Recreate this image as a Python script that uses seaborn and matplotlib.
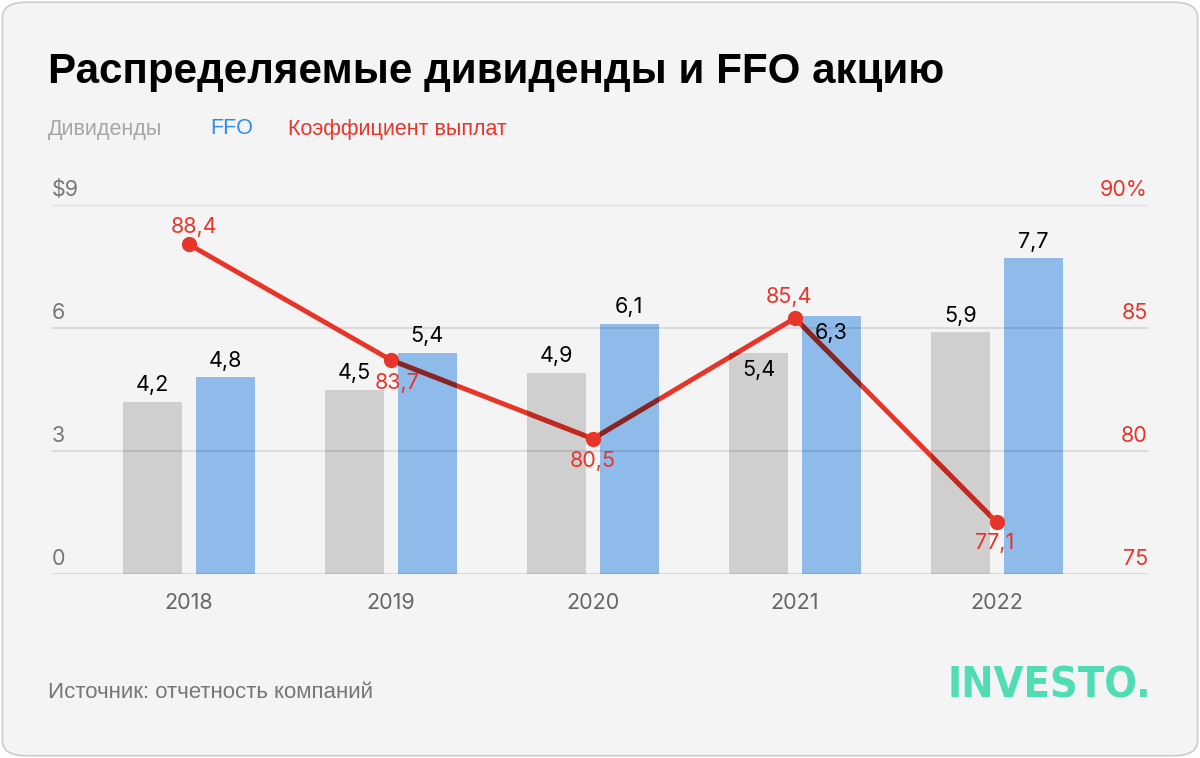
import numpy as np
import seaborn as sns
import pandas as pd
import matplotlib
matplotlib.use("Agg")
from matplotlib import pyplot as plt
from matplotlib.patches import FancyBboxPatch

years = ["2018", "2019", "2020", "2021", "2022"]
dividends = [4.2, 4.5, 4.9, 5.4, 5.9]
ffo = [4.8, 5.4, 6.1, 6.3, 7.7]
payout = [88.4, 83.7, 80.5, 85.4, 77.1]

left_ticks = [0, 3, 6, 9]
left_labels = ["0", "3", "6", "$9"]
right_ticks = [75, 80, 85, 90]
right_labels = ["75", "80", "85", "90%"]

# label offsets in pixels (dx, dy)
div_off = [(0, 17), (0, 17), (0, 17), (0, -17), (0, 16)]
ffo_off = [(0, 16), (0, 17), (0, 17), (0, -17), (0, 16)]
pay_off = [(5, 17), (6, -23), (0, -22), (-6, 21), (-2, -21)]

BG = "#F4F4F4"
GREY = "#CFCFCF"
BLUE = "#8FBBEA"
RED = "#E8352A"

sns.set_theme(style="white")
plt.rcParams["font.family"] = ["Inter", "DejaVu Sans"]

fig = plt.figure(figsize=(12, 7.58), dpi=100)
fig.patch.set_facecolor("white")
card = FancyBboxPatch((0.002, 0.003), 0.996, 0.994,
                      boxstyle="round,pad=0,rounding_size=0.02",
                      transform=fig.transFigure, facecolor=BG,
                      edgecolor="#CCCCCC", linewidth=1.2, zorder=-10)
fig.patches.append(card)

ax = fig.add_axes([0.0433, 0.2427, 0.9133, 0.4868])
ax.set_facecolor("none")

data = pd.DataFrame({
    "year": years * 2,
    "value": dividends + ffo,
    "series": ["Дивиденды"] * len(years) + ["FFO"] * len(years),
})
sns.barplot(data=data, x="year", y="value", hue="series",
            palette=[GREY, BLUE], width=0.72, gap=0.19,
            legend=False, ax=ax, saturation=1, zorder=2, linewidth=0)

ax.set_ylim(0, 9)
ax.set_xlim(-0.678, 4.748)
ax.set_yticks(left_ticks)
ax.set_yticklabels([])
ax.tick_params(axis="y", length=0)
ax.tick_params(axis="x", length=8, width=1.5, color="#CCCCCC",
               labelsize=15.5, labelcolor="#666666", pad=6)
for s in ax.spines.values():
    s.set_visible(False)
ax.set_xlabel("")
ax.set_ylabel("")
for t, lab in zip(left_ticks, left_labels):
    ax.axhline(t, color="black", alpha=0.1, lw=1.5, zorder=3)
    ax.annotate(lab, (0, t), xycoords=("axes fraction", "data"),
                xytext=(0, 5), textcoords="offset pixels",
                ha="left", va="bottom", fontsize=15.5, color="#777777")

# bar value labels
n = len(years)
bars = list(ax.patches)
for i, b in enumerate(bars[:n]):
    ax.annotate(f"{dividends[i]:.1f}".replace(".", ","),
                (b.get_x() + b.get_width() / 2, b.get_height()),
                xytext=div_off[i], textcoords="offset pixels",
                ha="center", va="center", fontsize=15.5, color="black", zorder=5)
for i, b in enumerate(bars[n:2 * n]):
    ax.annotate(f"{ffo[i]:.1f}".replace(".", ","),
                (b.get_x() + b.get_width() / 2, b.get_height()),
                xytext=ffo_off[i], textcoords="offset pixels",
                ha="center", va="center", fontsize=15.5, color="black", zorder=5)

# payout line on the right axis
ax2 = ax.twinx()
xpos = np.arange(n)
sns.lineplot(x=xpos, y=payout, ax=ax2, color=RED, lw=3.5,
             marker="o", markersize=11, markeredgewidth=0, zorder=4)
# darker line where it crosses the bars (multiply look)
for i, b in enumerate(bars[:2 * n]):
    dark = "#842724" if i >= n else "#BE2B22"
    ln, = ax2.plot(xpos, payout, color=dark, lw=3.5, zorder=4.5)
    ln.set_clip_path(b)
ax2.set_ylim(75, 90)
ax2.set_yticks(right_ticks)
ax2.set_yticklabels([])
ax2.tick_params(axis="y", length=0)
for s in ax2.spines.values():
    s.set_visible(False)
for t, lab in zip(right_ticks, right_labels):
    ax2.annotate(lab, (1, t), xycoords=("axes fraction", "data"),
                 xytext=(0, 5), textcoords="offset pixels",
                 ha="right", va="bottom", fontsize=15.5, color=RED)
for i, v in enumerate(payout):
    ax2.annotate(f"{v:.1f}".replace(".", ","), (xpos[i], v),
                 xytext=pay_off[i], textcoords="offset pixels",
                 ha="center", va="center", fontsize=15.5, color=RED, zorder=6)

# title, legend, footer
fig.text(48 / 1200, 1 - 72 / 758, "Распределяемые дивиденды и FFO акцию",
         fontsize=30.3, fontweight="bold", color="black", va="center",
         family=["Liberation Sans", "DejaVu Sans"])
leg = [("Дивиденды", "#A6A6A6", 48), ("FFO", "#2E8BF0", 210),
       ("Коэффициент выплат", RED, 288)]
for txt, col, xp in leg:
    fig.text(xp / 1200, 1 - 129 / 758, txt, fontsize=15.5, color=col,
             va="center", family=["Liberation Sans", "DejaVu Sans"])
fig.text(48 / 1200, 1 - 692 / 758, "Источник: отчетность компаний",
         fontsize=16, color="#777777", va="center",
         family=["Liberation Sans", "DejaVu Sans"])
fig.text(1151 / 1200, 1 - 685 / 758, "INVESTO.", fontsize=31,
         fontweight="bold", fontstretch="condensed", color="#50DDB6",
         ha="right", va="center", family=["DejaVu Sans"])

fig.savefig("out.png", dpi=100, facecolor=fig.get_facecolor())
